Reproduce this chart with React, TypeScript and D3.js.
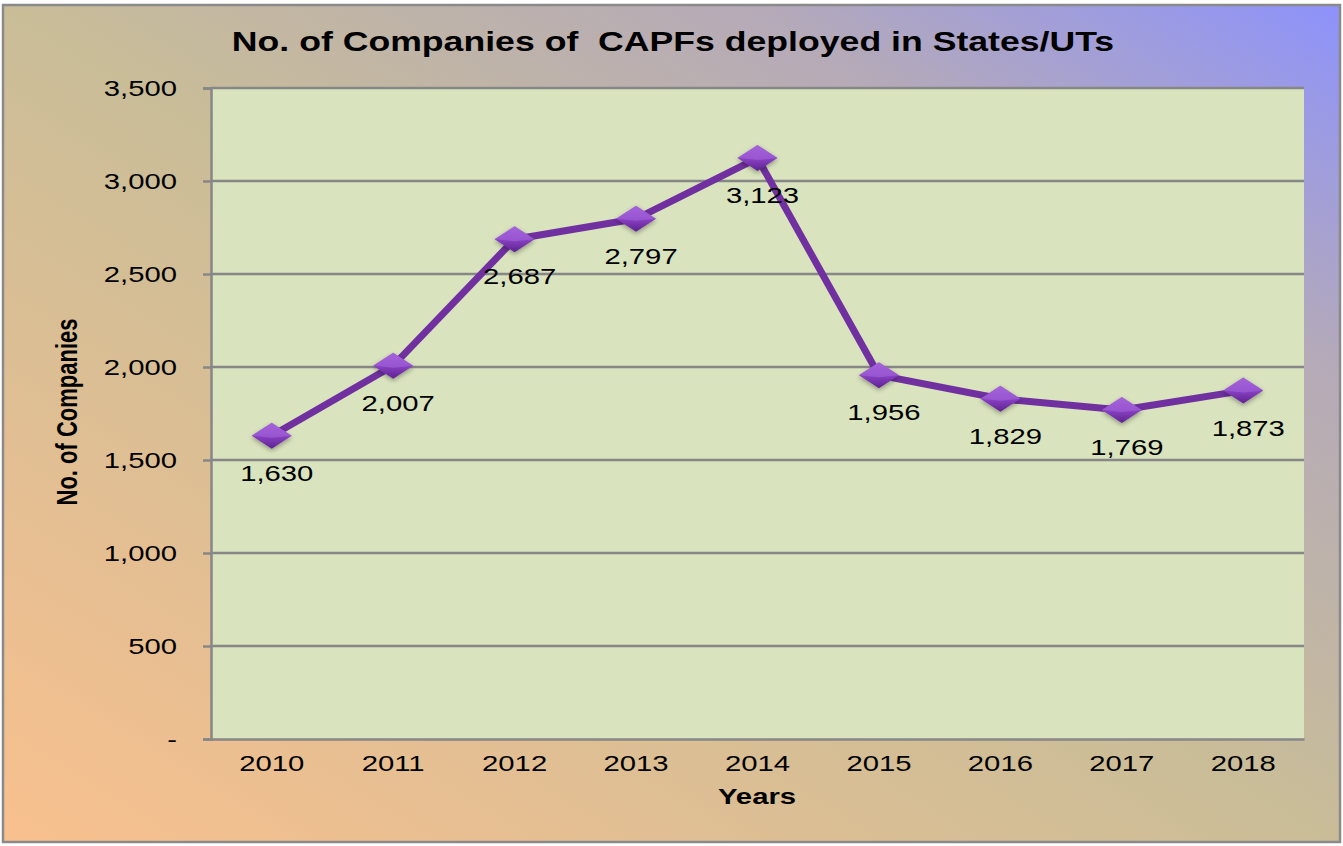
import React, { useEffect, useRef } from 'react';
import * as d3 from 'd3';

const years = ['2010', '2011', '2012', '2013', '2014', '2015', '2016', '2017', '2018'];
const companies = [1630, 2007, 2687, 2797, 3123, 1956, 1829, 1769, 1873];
const yTicks = [0, 500, 1000, 1500, 2000, 2500, 3000, 3500];

const W = 1343;
const H = 846;
// the reference text is a bit wider than Arial
const SX = 1.33;
const FONT = 'Liberation Sans, Arial, sans-serif';

const App = () => {
  const svgRef = useRef(null);

  useEffect(() => {
    const svg = d3.select(svgRef.current);
    svg.selectAll('*').remove();

    const margin = { top: 88, right: 39, bottom: 107, left: 211 };
    const defs = svg.append('defs');

    const bg = defs.append('linearGradient').attr('id', 'bg')
      .attr('x1', 0).attr('y1', 1).attr('x2', 1).attr('y2', 0);
    bg.append('stop').attr('offset', '0%').attr('stop-color', '#f9c08e');
    bg.append('stop').attr('offset', '50%').attr('stop-color', '#c9bd98');
    bg.append('stop').attr('offset', '78%').attr('stop-color', '#b5aab8');
    bg.append('stop').attr('offset', '100%').attr('stop-color', '#8d92fb');

    const mk = defs.append('linearGradient').attr('id', 'mk')
      .attr('x1', 0).attr('y1', 0).attr('x2', 0).attr('y2', 1);
    mk.append('stop').attr('offset', '0%').attr('stop-color', '#a160d8');
    mk.append('stop').attr('offset', '50%').attr('stop-color', '#8a42c4');
    mk.append('stop').attr('offset', '100%').attr('stop-color', '#5e2290');

    const shadow = defs.append('filter').attr('id', 'sh')
      .attr('x', '-50%').attr('y', '-50%').attr('width', '200%').attr('height', '200%');
    shadow.append('feGaussianBlur').attr('in', 'SourceAlpha').attr('stdDeviation', 2.5);
    shadow.append('feOffset').attr('dx', 0).attr('dy', 2).attr('result', 'b');
    shadow.append('feComponentTransfer').append('feFuncA').attr('type', 'linear').attr('slope', 0.35);
    const merge = shadow.append('feMerge');
    merge.append('feMergeNode');
    merge.append('feMergeNode').attr('in', 'SourceGraphic');

    svg.append('rect')
      .attr('x', 3).attr('y', 5).attr('width', W - 6).attr('height', H - 9)
      .attr('fill', 'url(#bg)').attr('stroke', '#8a8a8a').attr('stroke-width', 2.5);

    const x = d3.scaleBand().domain(years).range([margin.left, W - margin.right]);
    const y = d3.scaleLinear().domain([0, 3500]).range([H - margin.bottom, margin.top]);

    svg.append('rect')
      .attr('x', margin.left).attr('y', margin.top)
      .attr('width', W - margin.right - margin.left)
      .attr('height', H - margin.bottom - margin.top)
      .attr('fill', '#d9e3be');

    const yAxis = svg.append('g')
      .attr('transform', `translate(${margin.left},0)`)
      .call(d3.axisLeft(y).tickValues(yTicks)
        .tickSize(8)
        .tickFormat((d) => (d === 0 ? '-' : d3.format(',')(d))));
    yAxis.select('.domain').attr('stroke', '#878787').attr('stroke-width', 2.5);
    yAxis.selectAll('.tick line').attr('stroke', '#878787').attr('stroke-width', 2.5);
    yAxis.selectAll('.tick text')
      .attr('x', 0)
      .attr('transform', `translate(-34,0) scale(${SX},1)`)
      .attr('font-family', FONT)
      .attr('font-size', 22).attr('fill', '#000');

    svg.append('g').selectAll('line').data(yTicks.slice(1)).enter().append('line')
      .attr('x1', margin.left).attr('x2', W - margin.right)
      .attr('y1', (d) => y(d)).attr('y2', (d) => y(d))
      .attr('stroke', '#878787').attr('stroke-width', 2.5);

    const xAxis = svg.append('g')
      .attr('transform', `translate(0,${H - margin.bottom})`)
      .call(d3.axisBottom(x).tickSize(0).tickPadding(16));
    xAxis.select('.domain').attr('stroke', '#878787').attr('stroke-width', 2.5);
    xAxis.selectAll('.tick text')
      .attr('transform', `scale(${SX},1)`)
      .attr('font-family', FONT)
      .attr('font-size', 22).attr('fill', '#000');

    const line = d3.line()
      .x((d, i) => x(years[i]) + x.bandwidth() / 2)
      .y((d) => y(d));

    svg.append('path')
      .datum(companies)
      .attr('d', line)
      .attr('fill', 'none')
      .attr('stroke', '#7030a0')
      .attr('stroke-width', 7)
      .attr('stroke-linejoin', 'round');

    const pts = svg.append('g').selectAll('g').data(companies).enter().append('g')
      .attr('transform', (d, i) => `translate(${x(years[i]) + x.bandwidth() / 2},${y(d)})`);

    pts.append('path')
      .attr('d', 'M0,-13 L20,0 L0,13 L-20,0 Z')
      .attr('fill', 'url(#mk)')
      .attr('filter', 'url(#sh)');
    pts.append('path')
      .attr('d', 'M0,-13 L20,0 L0,2 L-20,0 Z')
      .attr('fill', '#a666dc').attr('opacity', 0.55);

    pts.append('text')
      .attr('transform', `translate(5,45) scale(${SX},1)`)
      .attr('text-anchor', 'middle')
      .attr('font-family', FONT)
      .attr('font-size', 22).attr('fill', '#000')
      .text((d) => d3.format(',')(d));

    svg.append('text')
      .attr('transform', `translate(673,51) scale(1.32,1)`)
      .attr('text-anchor', 'middle')
      .attr('font-family', FONT)
      .attr('font-weight', 'bold').attr('font-size', 27)
      .attr('xml:space', 'preserve')
      .style('white-space', 'pre')
      .text('No. of Companies of  CAPFs deployed in States/UTs');

    svg.append('text')
      .attr('transform', `translate(77,412) scale(${SX},1) rotate(-90)`)
      .attr('text-anchor', 'middle')
      .attr('font-family', 'Liberation Sans Narrow, Arial Narrow, sans-serif')
      .attr('font-stretch', 'condensed')
      .attr('font-weight', 'bold').attr('font-size', 22)
      .text('No. of Companies');

    svg.append('text')
      .attr('transform', `translate(757,804) scale(${SX},1)`)
      .attr('text-anchor', 'middle')
      .attr('font-family', FONT)
      .attr('font-weight', 'bold').attr('font-size', 22)
      .text('Years');
  }, []);

  return (
    <div style={{ position: 'absolute', left: 0, top: 0 }}>
      <svg ref={svgRef} width={W} height={H} style={{ display: 'block' }}></svg>
    </div>
  );
};

export default App;
